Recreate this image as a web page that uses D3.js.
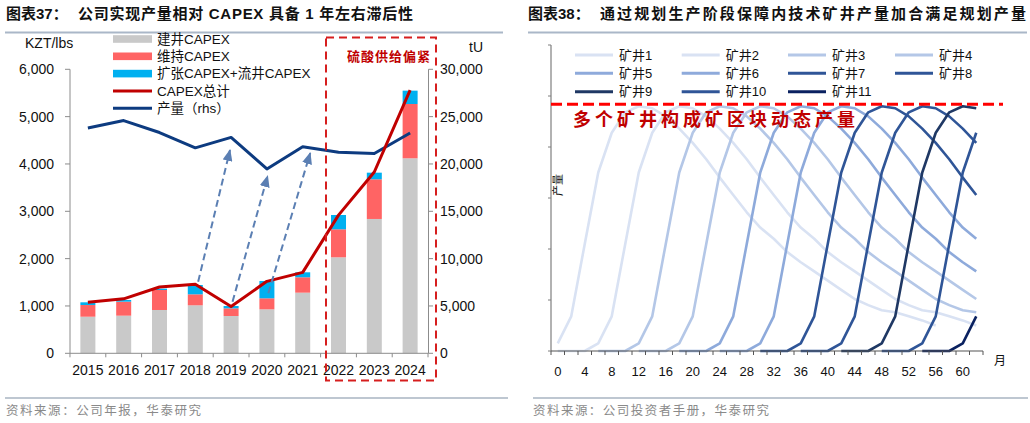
<!DOCTYPE html>
<html><head><meta charset="utf-8">
<script src="https://cdn.jsdelivr.net/npm/d3@7"></script>
<style>body{margin:0;background:#fff}svg{display:block}</style>
</head><body>
<svg id="c" width="1030" height="423"></svg>
<script>
// ================= LEFT CHART DATA =================
const years = ['2015','2016','2017','2018','2019','2020','2021','2022','2023','2024'];
const capexBuild   = [773, 795, 915, 1014, 788, 929, 1281, 2028, 2838, 4120];   // 建井CAPEX
const capexSustain = [247, 296, 422, 232, 162, 233, 325, 592, 838, 1147];       // 维持CAPEX
const capexExpand  = [57, 35, 29, 197, 49, 366, 105, 302, 140, 282];            // 扩张CAPEX+流井CAPEX
const capexTotal   = [1080, 1150, 1400, 1460, 990, 1520, 1710, 2920, 3830, 5560]; // CAPEX总计
const production   = [23807, 24586, 23321, 21705, 22808, 19477, 21819, 21227, 21112, 23270]; // 产量 tU
const leftTicks  = [0, 1000, 2000, 3000, 4000, 5000, 6000];
const rightTicks = [0, 5000, 10000, 15000, 20000, 25000, 30000];
const leftLegend = ['建井CAPEX', '维持CAPEX', '扩张CAPEX+流井CAPEX', 'CAPEX总计', '产量（rhs）'];
// arrows: [from year index, from KZT/lbs, to year index, to KZT/lbs]
const capexArrows = [[3.08, 1513, 3.97, 4296], [4.04, 1090, 5.02, 3746], [5.04, 1268, 6.21, 4232]];

// ================= RIGHT CHART DATA =================
const xTickLabels = [0, 4, 8, 12, 16, 20, 24, 28, 32, 36, 40, 44, 48, 52, 56, 60];
const wellNames = ['矿井1','矿井2','矿井3','矿井4','矿井5','矿井6','矿井7','矿井8','矿井9','矿井10','矿井11'];
const wellFirstMonth = [0, 0, 6, 12, 18, 24, 30, 36, 42, 48, 54]; // month of first point, points every 2 months
const well1  = [7.5,34,105,175,214,234,240,238,230,218,204,188,170,153,136,121,110,97,87,78,69,60,51,45,40,38,34,30,25];
const well2  = [0,0,0,7.5,34,105,175,214,234,240,238,230,218,204,188,170,153,136,121,110,97,87,78,69,60,51,45,40,38,34,30,25];
const well3  = [0,0,0,7.5,34,105,175,214,234,240,238,230,218,204,188,170,153,136,121,110,97,87,78,69,60,51,45,40,38];
const well4  = [0,0,0,7.5,34,105,175,214,234,240,238,230,218,204,188,170,153,136,121,110,97,87,78,69,60,51];
const well5  = [0,0,0,7.5,34,105,175,214,234,240,238,230,218,204,188,170,153,136,121,110,97,87,78];
const well6  = [0,0,0,7.5,34,105,175,214,234,240,238,230,218,204,188,170,153,136,121,110];
const well7  = [0,0,0,7.5,34,105,175,214,234,240,238,230,218,204,188,170,153];
const well8  = [0,0,0,7.5,34,105,175,214,234,240,238,230,218,204];
const well9  = [0,0,0,7.5,34,105,175,214,234,240,238];
const well10 = [0,0,0,7.5,34,105,175,214];
const well11 = [0,0,0,7.5,34];
const wellValues = [well1, well2, well3, well4, well5, well6, well7, well8, well9, well10, well11];
const wellColors = ['#d9e2f3','#d9e2f3','#b4c7e7','#b4c7e7','#8eaadb','#8eaadb','#2f5597','#2f5597','#1f3864','#2f5597','#0a2160'];
const targetLevel = 242;
const yWTicks = [0, 50, 100, 150, 200, 250, 300];

const CJK = '"Liberation Sans", Arial, "Noto Sans CJK SC", sans-serif';
const svg = d3.select('#c');

// ================= TITLES & FOOTERS =================
function title(x0, head, body, bodyX, bodyLen, lineX0, lineX1) {
  const t = svg.append('text').attr('x', x0).attr('y', 19).attr('font-family', CJK)
    .attr('font-size', 15).attr('font-weight', 700).attr('fill', '#111').text(head);
  const b = svg.append('text').attr('x', bodyX).attr('y', 19).attr('font-family', CJK)
    .attr('font-size', 15).attr('font-weight', 600).attr('fill', '#111')
    .attr('textLength', bodyLen).attr('lengthAdjust', 'spacing');
  body.forEach(p => b.append('tspan').attr('font-weight', p[1] ? 700 : 600).text(p[0]));
  svg.append('line').attr('x1', lineX0).attr('x2', lineX1).attr('y1', 32.5).attr('y2', 32.5)
    .attr('stroke', '#aab7c8').attr('stroke-width', 2);
}
title(6, '图表37：', [['公司实现产量相对 '], ['CAPEX', 1], [' 具备 '], ['1', 1], [' 年左右滞后性']], 78, 335, 5, 503);
title(528, '图表38：', [['通过规划生产阶段保障内技术矿井产量加合满足规划产量']], 600, 426, 528, 1027);

svg.append('line').attr('x1', 5).attr('x2', 508).attr('y1', 398).attr('y2', 398).attr('stroke', '#a9b4c2').attr('stroke-width', 1.5);
svg.append('line').attr('x1', 533).attr('x2', 1028).attr('y1', 398).attr('y2', 398).attr('stroke', '#a9b4c2').attr('stroke-width', 1.5);
svg.append('text').attr('x', 6).attr('y', 415).attr('font-family', CJK).attr('font-size', 12.5).attr('fill', '#8a8a8a')
  .attr('textLength', 195).attr('lengthAdjust', 'spacing').text('资料来源：公司年报，华泰研究');
svg.append('text').attr('x', 533).attr('y', 415).attr('font-family', CJK).attr('font-size', 12.5).attr('fill', '#8a8a8a')
  .attr('textLength', 236).attr('lengthAdjust', 'spacing').text('资料来源：公司投资者手册，华泰研究');

// ================= LEFT CHART =================
const xL = d3.scaleBand().domain(years).range([70, 428]).paddingInner(0.581).paddingOuter(0.29);
const cx = y => xL(y) + xL.bandwidth() / 2;
const xIdx = d3.scaleLinear().domain([0, 9]).range([cx(years[0]), cx(years[9])]);
const yL = d3.scaleLinear().domain([0, 6000]).range([353.3, 69.3]);
const yR = d3.scaleLinear().domain([0, 30000]).range([353.3, 69.3]);

const table = years.map((y, i) => ({ year: y, build: capexBuild[i], sustain: capexSustain[i], expand: capexExpand[i] }));
const stack = d3.stack().keys(['build', 'sustain', 'expand'])(table);
const barColors = { build: '#c9c9c9', sustain: '#ff6464', expand: '#00b0f0' };
const gBars = svg.append('g');
stack.forEach(s => {
  gBars.selectAll(null).data(s).join('rect')
    .attr('x', d => xL(d.data.year)).attr('width', xL.bandwidth())
    .attr('y', d => yL(d[1])).attr('height', d => yL(d[0]) - yL(d[1]))
    .attr('fill', barColors[s.key]);
});

// axes
const axisCol = '#8c8c8c';
const gL = svg.append('g').attr('font-family', CJK);
gL.append('line').attr('x1', 70).attr('x2', 70).attr('y1', yL(6000)).attr('y2', yL(0)).attr('stroke', axisCol);
leftTicks.forEach(t => {
  gL.append('line').attr('x1', 65).attr('x2', 70).attr('y1', yL(t)).attr('y2', yL(t)).attr('stroke', axisCol);
  gL.append('text').attr('x', 54).attr('y', yL(t)).attr('dy', '0.36em').attr('text-anchor', 'end')
    .attr('font-size', 14).attr('fill', '#111').text(d3.format(',')(t));
});
gL.append('line').attr('x1', 428.5).attr('x2', 428.5).attr('y1', yR(30000)).attr('y2', yR(0)).attr('stroke', axisCol);
rightTicks.forEach(t => {
  gL.append('line').attr('x1', 428.5).attr('x2', 433).attr('y1', yR(t)).attr('y2', yR(t)).attr('stroke', axisCol);
  gL.append('text').attr('x', 440).attr('y', yR(t)).attr('dy', '0.36em').attr('text-anchor', 'start')
    .attr('font-size', 14).attr('fill', '#111').text(d3.format(',')(t));
});
gL.append('line').attr('x1', 70).attr('x2', 428.5).attr('y1', yL(0)).attr('y2', yL(0)).attr('stroke', axisCol);
const bTicks = years.map(y => cx(y) - xL.step() / 2).concat([cx(years[9]) + xL.step() / 2]);
bTicks.forEach(x => gL.append('line').attr('x1', x).attr('x2', x).attr('y1', yL(0)).attr('y2', yL(0) + 4).attr('stroke', axisCol));
years.forEach(y => gL.append('text').attr('x', cx(y)).attr('y', 370).attr('dy', '0.36em').attr('text-anchor', 'middle')
  .attr('font-size', 14).attr('fill', '#111').text(y));
gL.append('text').attr('x', 25).attr('y', 42.5).attr('dy', '0.36em').attr('font-size', 14).attr('fill', '#111').text('KZT/lbs');
gL.append('text').attr('x', 469).attr('y', 46.5).attr('dy', '0.36em').attr('font-size', 14).attr('fill', '#111').text('tU');

// lines
svg.append('path').datum(production)
  .attr('d', d3.line().x((d, i) => cx(years[i])).y(d => yR(d)))
  .attr('fill', 'none').attr('stroke', '#0d3b80').attr('stroke-width', 3).attr('stroke-linejoin', 'round');
svg.append('path').datum(capexTotal)
  .attr('d', d3.line().x((d, i) => cx(years[i])).y(d => yL(d)))
  .attr('fill', 'none').attr('stroke', '#c00000').attr('stroke-width', 3).attr('stroke-linejoin', 'round');

// arrows
const defs = svg.append('defs');
defs.append('marker').attr('id', 'ah').attr('viewBox', '0 0 12 10').attr('refX', 11).attr('refY', 5)
  .attr('markerWidth', 12).attr('markerHeight', 10).attr('markerUnits', 'userSpaceOnUse').attr('orient', 'auto')
  .append('path').attr('d', 'M0,0 L12,5 L0,10 Z').attr('fill', '#5b7fb3');
capexArrows.forEach(a => {
  svg.append('line').attr('x1', xIdx(a[0])).attr('y1', yL(a[1])).attr('x2', xIdx(a[2])).attr('y2', yL(a[3]))
    .attr('stroke', '#5b7fb3').attr('stroke-width', 2).attr('stroke-dasharray', '7,4').attr('marker-end', 'url(#ah)');
});

// legend
const gLeg = svg.append('g').attr('font-family', CJK).attr('font-size', 13.5).attr('fill', '#111');
const legY = [39, 56.3, 73.6, 91, 108.3];
['#c9c9c9', '#ff6464', '#00b0f0'].forEach((c, i) =>
  gLeg.append('rect').attr('x', 113).attr('y', legY[i] - 3.8).attr('width', 39).attr('height', 7.6).attr('fill', c));
[['#c00000', 3], ['#0d3b80', 3]].forEach((c, i) =>
  gLeg.append('line').attr('x1', 113).attr('x2', 152).attr('y1', legY[i + 3]).attr('y2', legY[i + 3]).attr('stroke', c[0]).attr('stroke-width', c[1]));
leftLegend.forEach((t, i) => gLeg.append('text').attr('x', 157).attr('y', legY[i]).attr('dy', '0.36em').text(t));

// red dashed box
svg.append('rect').attr('x', 326).attr('y', 37.5).attr('width', 110).attr('height', 343)
  .attr('fill', 'none').attr('stroke', '#d61e1e').attr('stroke-width', 2).attr('stroke-dasharray', '8,5');
svg.append('text').attr('x', 347).attr('y', 56).attr('dy', '0.36em').attr('font-family', CJK)
  .attr('font-size', 13).attr('font-weight', 700).attr('fill', '#c00000')
  .attr('textLength', 83).attr('lengthAdjust', 'spacing').text('硫酸供给偏紧');

// ================= RIGHT CHART =================
const xR = d3.scaleLinear().domain([-1, 63]).range([551, 983]);
const yW = d3.scaleLinear().domain([0, 300]).range([351, 45]);
const gR = svg.append('g').attr('font-family', CJK);

const lineW = d3.line().x(d => xR(d[0])).y(d => yW(d[1])).defined(d => d[1] != null);
wellValues.forEach((vals, k) => {
  const pts = vals.map((v, i) => [wellFirstMonth[k] + 2 * i, v]);
  gR.append('path').datum(pts).attr('d', lineW).attr('fill', 'none')
    .attr('stroke', wellColors[k]).attr('stroke-width', 2.6).attr('stroke-linejoin', 'round');
});

// axes
gR.append('line').attr('x1', 551).attr('x2', 551).attr('y1', 45).attr('y2', 351).attr('stroke', '#7f7f7f').attr('stroke-width', 1.2);
yWTicks.forEach(t => gR.append('line').attr('x1', 548).attr('x2', 551).attr('y1', yW(t)).attr('y2', yW(t)).attr('stroke', '#7f7f7f'));
gR.append('line').attr('x1', 551).attr('x2', 983).attr('y1', 351).attr('y2', 351).attr('stroke', '#555').attr('stroke-width', 1.2);
d3.range(-1, 64, 2).forEach(m => gR.append('line').attr('x1', xR(m)).attr('x2', xR(m)).attr('y1', 351).attr('y2', 355).attr('stroke', '#555'));
xTickLabels.forEach(m => gR.append('text').attr('x', xR(m)).attr('y', 371.5).attr('dy', '0.36em').attr('text-anchor', 'middle')
  .attr('font-size', 13).attr('fill', '#111').text(m));
gR.append('text').attr('x', 1000).attr('y', 361).attr('dy', '0.36em').attr('text-anchor', 'middle')
  .attr('font-size', 12).attr('fill', '#111').text('月');
gR.append('text').attr('transform', 'translate(558,185) rotate(-90)').attr('dy', '0.36em').attr('text-anchor', 'middle')
  .attr('font-size', 11).attr('fill', '#111').text('产量');

// target line
gR.append('line').attr('x1', 551).attr('x2', 1003).attr('y1', yW(targetLevel)).attr('y2', yW(targetLevel))
  .attr('stroke', '#ff0000').attr('stroke-width', 3).attr('stroke-dasharray', '11,5');
gR.append('text').attr('x', 573).attr('y', 120).attr('dy', '0.36em').attr('font-size', 18).attr('font-weight', 700)
  .attr('fill', '#c00000').attr('textLength', 282).attr('lengthAdjust', 'spacing').text('多个矿井构成矿区块动态产量');

// legend
const colX = [575, 681.7, 788, 895];
const rowY = [55, 73.3, 91.7];
wellNames.forEach((n, k) => {
  const c = k % 4, r = Math.floor(k / 4);
  gR.append('line').attr('x1', colX[c]).attr('x2', colX[c] + 38).attr('y1', rowY[r]).attr('y2', rowY[r])
    .attr('stroke', wellColors[k]).attr('stroke-width', 3);
  gR.append('text').attr('x', colX[c] + 44).attr('y', rowY[r]).attr('dy', '0.36em')
    .attr('font-size', 13).attr('fill', '#111').text(n);
});
</script>
</body></html>
